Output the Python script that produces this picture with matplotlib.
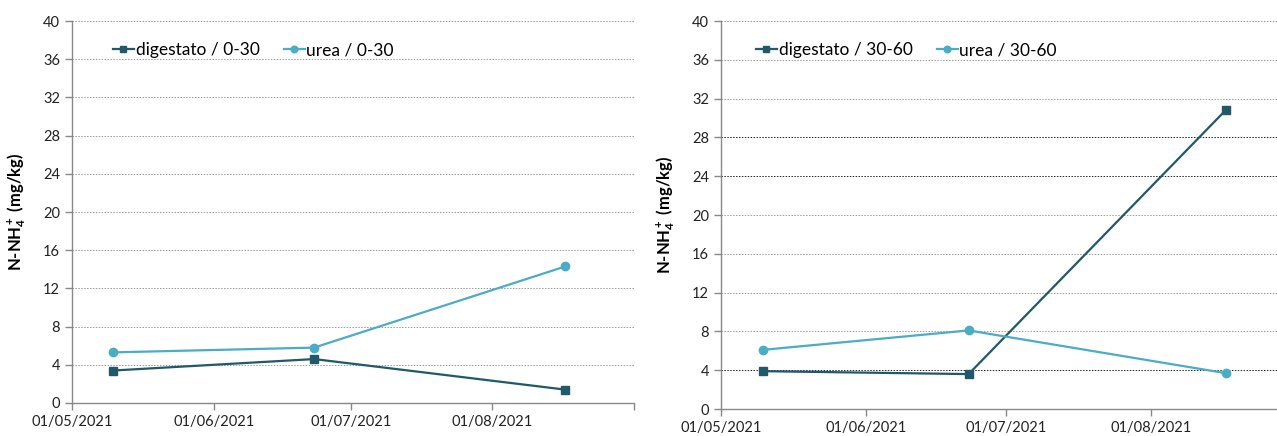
import datetime as dt
import matplotlib
matplotlib.use('Agg')
import matplotlib.pyplot as plt

plt.rcParams['font.family'] = ['Lato', 'DejaVu Sans']
plt.rcParams['mathtext.fontset'] = 'custom'
plt.rcParams['mathtext.rm'] = 'Lato:bold'
plt.rcParams['mathtext.it'] = 'Lato:bold'
plt.rcParams['mathtext.bf'] = 'Lato:bold'

# ── Data ─────────────────────────────────────────────────────
dates = [dt.date(2021, 5, 10), dt.date(2021, 6, 23), dt.date(2021, 8, 17)]

dig_0_30  = [3.4, 4.6, 1.4]
urea_0_30 = [5.3, 5.8, 14.3]

dig_30_60  = [3.9, 3.6, 30.8]
urea_30_60 = [6.1, 8.1, 3.7]

month_ticks = [dt.date(2021, 5, 1), dt.date(2021, 6, 1), dt.date(2021, 7, 1),
               dt.date(2021, 8, 1), dt.date(2021, 9, 1)]
month_labels = ['01/05/2021', '01/06/2021', '01/07/2021', '01/08/2021', '']
y_ticks = list(range(0, 41, 4))

C_DIG = '#215968'
C_UREA = '#4BACC6'

fig = plt.figure(figsize=(12.77, 4.36), dpi=100)
ax1 = fig.add_axes([0.0564, 0.0757, 0.440, 0.8761])
ax2 = fig.add_axes([0.5646, 0.0619, 0.4354, 0.8899])

panels = [
    (ax1, dig_0_30, urea_0_30, '0-30', dt.date(2021, 9, 1), [], 0.045),
    (ax2, dig_30_60, urea_30_60, '30-60', dt.date(2021, 8, 28), [4, 24, 28], 0.035),
]

for ax, dig, urea, depth, xend, dark, legx in panels:
    for y in y_ticks[1:]:
        col = '#222222' if y in dark else '#9a9a9a'
        ax.axhline(y, color=col, linestyle=(0, (1.5, 1.5)), linewidth=0.7, zorder=0)
    ax.plot(dates, dig, color=C_DIG, marker='s', markersize=6, linewidth=1.6,
            label=f'digestato / {depth}', zorder=3)
    ax.plot(dates, urea, color=C_UREA, marker='o', markersize=6, linewidth=1.6,
            label=f'urea / {depth}', zorder=3)
    ax.set_yticks(y_ticks)
    ax.set_xticks(month_ticks)
    ax.set_xticklabels(month_labels)
    ax.set_xlim(dt.date(2021, 5, 1), xend)
    ax.set_ylim(0, 40)
    for s in ('top', 'right'):
        ax.spines[s].set_visible(False)
    for s in ('left', 'bottom'):
        ax.spines[s].set_color('#888888')
        ax.spines[s].set_linewidth(1.0)
    ax.tick_params(axis='both', colors='#888888', labelcolor='#222222',
                   labelsize=10.5, length=5, width=1.0)
    ax.set_ylabel(r'N-NH$_4^+$ (mg/kg)', fontsize=12, fontweight='bold', labelpad=11)
    ax.legend(loc='upper left', bbox_to_anchor=(legx, 0.985), ncol=2,
              frameon=False, fontsize=12.5, handlelength=1.2,
              handletextpad=0.1, columnspacing=1.4, markerscale=0.8)

fig.savefig('out.png', dpi=100)
